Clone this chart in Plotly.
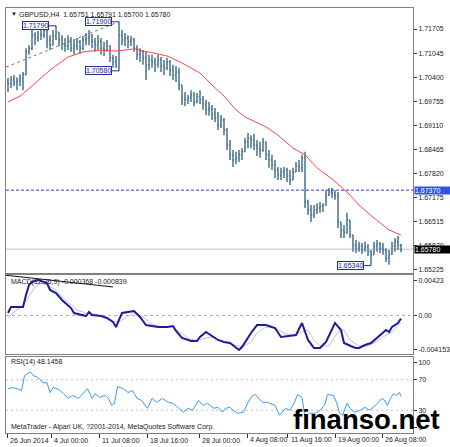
import plotly.graph_objects as go

# GBPUSD H4 price bars (one drawn bar per entry)
bar_open = [
    1.7030, 1.7023, 1.7033, 1.7028, 1.7033, 1.7039, 1.7047, 1.7109, 1.7119, 1.7154,
    1.7146, 1.7157, 1.7154, 1.7165, 1.7141, 1.7127, 1.7152, 1.7162, 1.7141, 1.7130,
    1.7125, 1.7141, 1.7119, 1.7125, 1.7136, 1.7119, 1.7141, 1.7146, 1.7152, 1.7136,
    1.7127, 1.7136, 1.7119, 1.7114, 1.7125, 1.7093, 1.7082, 1.7068, 1.7154, 1.7141,
    1.7146, 1.7136, 1.7141, 1.7119, 1.7101, 1.7109, 1.7093, 1.7074, 1.7087, 1.7082,
    1.7076, 1.7087, 1.7071, 1.7066, 1.7082, 1.7060, 1.7047, 1.7055, 1.7020, 1.6985,
    1.6980, 1.6985, 1.6993, 1.6974, 1.6988, 1.6980, 1.6969, 1.6953, 1.6958, 1.6939,
    1.6931, 1.6912, 1.6926, 1.6899, 1.6858, 1.6832, 1.6818, 1.6824, 1.6832, 1.6840,
    1.6867, 1.6877, 1.6872, 1.6858, 1.6850, 1.6845, 1.6867, 1.6832, 1.6818, 1.6805,
    1.6791, 1.6778, 1.6786, 1.6791, 1.6775, 1.6764, 1.6786, 1.6802, 1.6797, 1.6824,
    1.6705, 1.6684, 1.6670, 1.6684, 1.6689, 1.6694, 1.6697, 1.6724, 1.6732, 1.6729,
    1.6721, 1.6651, 1.6630, 1.6624, 1.6657, 1.6616, 1.6589, 1.6581, 1.6587, 1.6576,
    1.6584, 1.6571, 1.6563, 1.6587, 1.6592, 1.6581, 1.6576, 1.6554, 1.6565, 1.6587,
    1.6598, 1.6589,
]
bar_high = [
    1.7039, 1.7044, 1.7047, 1.7041, 1.7049, 1.7055, 1.7119, 1.7127, 1.7168, 1.7162,
    1.7165, 1.7170, 1.7172, 1.7168, 1.7154, 1.7168, 1.7179, 1.7162, 1.7154, 1.7146,
    1.7154, 1.7149, 1.7141, 1.7146, 1.7141, 1.7152, 1.7160, 1.7168, 1.7157, 1.7146,
    1.7154, 1.7146, 1.7136, 1.7141, 1.7127, 1.7101, 1.7098, 1.7190, 1.7168, 1.7160,
    1.7154, 1.7152, 1.7146, 1.7127, 1.7119, 1.7114, 1.7109, 1.7101, 1.7101, 1.7093,
    1.7101, 1.7095, 1.7087, 1.7093, 1.7087, 1.7074, 1.7071, 1.7066, 1.7020, 1.7001,
    1.6993, 1.7006, 1.7001, 1.6998, 1.7006, 1.6990, 1.6980, 1.6974, 1.6966, 1.6958,
    1.6947, 1.6939, 1.6931, 1.6904, 1.6872, 1.6845, 1.6840, 1.6845, 1.6850, 1.6877,
    1.6891, 1.6885, 1.6888, 1.6872, 1.6867, 1.6877, 1.6867, 1.6845, 1.6832, 1.6818,
    1.6799, 1.6797, 1.6799, 1.6797, 1.6791, 1.6797, 1.6813, 1.6818, 1.6832, 1.6840,
    1.6711, 1.6697, 1.6697, 1.6702, 1.6705, 1.6702, 1.6737, 1.6743, 1.6743, 1.6737,
    1.6732, 1.6651, 1.6643, 1.6676, 1.6657, 1.6616, 1.6603, 1.6598, 1.6595, 1.6598,
    1.6592, 1.6576, 1.6598, 1.6603, 1.6598, 1.6595, 1.6581, 1.6576, 1.6598, 1.6608,
    1.6614, 1.6592,
]
bar_low = [
    1.7001, 1.7012, 1.7017, 1.7006, 1.7017, 1.7006, 1.7047, 1.7101, 1.7114, 1.7127,
    1.7136, 1.7141, 1.7146, 1.7119, 1.7114, 1.7127, 1.7141, 1.7125, 1.7114, 1.7109,
    1.7114, 1.7109, 1.7101, 1.7114, 1.7103, 1.7114, 1.7127, 1.7127, 1.7119, 1.7109,
    1.7114, 1.7101, 1.7098, 1.7109, 1.7082, 1.7066, 1.7066, 1.7058, 1.7127, 1.7125,
    1.7119, 1.7125, 1.7109, 1.7087, 1.7082, 1.7074, 1.7033, 1.7060, 1.7066, 1.7055,
    1.7066, 1.7055, 1.7047, 1.7060, 1.7044, 1.7033, 1.7028, 1.7006, 1.6966, 1.6963,
    1.6969, 1.6974, 1.6963, 1.6971, 1.6969, 1.6953, 1.6939, 1.6937, 1.6926, 1.6920,
    1.6899, 1.6904, 1.6885, 1.6845, 1.6818, 1.6799, 1.6807, 1.6813, 1.6818, 1.6840,
    1.6850, 1.6850, 1.6845, 1.6829, 1.6824, 1.6840, 1.6818, 1.6797, 1.6791, 1.6770,
    1.6764, 1.6764, 1.6770, 1.6759, 1.6751, 1.6764, 1.6786, 1.6786, 1.6786, 1.6689,
    1.6670, 1.6651, 1.6662, 1.6673, 1.6676, 1.6678, 1.6695, 1.6721, 1.6716, 1.6711,
    1.6635, 1.6608, 1.6608, 1.6620, 1.6608, 1.6571, 1.6568, 1.6571, 1.6565, 1.6571,
    1.6560, 1.6534, 1.6563, 1.6571, 1.6568, 1.6563, 1.6544, 1.6536, 1.6563, 1.6571,
    1.6576, 1.6570,
]
bar_close = [
    1.7023, 1.7033, 1.7028, 1.7033, 1.7039, 1.7047, 1.7109, 1.7119, 1.7154, 1.7146,
    1.7157, 1.7154, 1.7165, 1.7141, 1.7127, 1.7152, 1.7162, 1.7141, 1.7130, 1.7125,
    1.7141, 1.7119, 1.7125, 1.7136, 1.7119, 1.7141, 1.7146, 1.7152, 1.7136, 1.7127,
    1.7136, 1.7119, 1.7114, 1.7125, 1.7093, 1.7082, 1.7068, 1.7154, 1.7141, 1.7146,
    1.7136, 1.7141, 1.7119, 1.7101, 1.7109, 1.7093, 1.7074, 1.7087, 1.7082, 1.7076,
    1.7087, 1.7071, 1.7066, 1.7082, 1.7060, 1.7047, 1.7055, 1.7020, 1.6985, 1.6980,
    1.6985, 1.6993, 1.6974, 1.6988, 1.6980, 1.6969, 1.6953, 1.6958, 1.6939, 1.6931,
    1.6912, 1.6926, 1.6899, 1.6858, 1.6832, 1.6818, 1.6824, 1.6832, 1.6840, 1.6867,
    1.6877, 1.6872, 1.6858, 1.6850, 1.6845, 1.6867, 1.6832, 1.6818, 1.6805, 1.6791,
    1.6778, 1.6786, 1.6791, 1.6775, 1.6764, 1.6786, 1.6802, 1.6797, 1.6824, 1.6705,
    1.6684, 1.6670, 1.6684, 1.6689, 1.6694, 1.6697, 1.6724, 1.6732, 1.6729, 1.6721,
    1.6651, 1.6630, 1.6624, 1.6657, 1.6616, 1.6589, 1.6581, 1.6587, 1.6576, 1.6584,
    1.6571, 1.6563, 1.6587, 1.6592, 1.6581, 1.6576, 1.6554, 1.6565, 1.6587, 1.6598,
    1.6589, 1.6578,
]

# moving average (red), sampled along the bars
ma_bar = [0, 4, 8, 14, 20, 25, 31, 36, 42, 47, 53, 58, 64, 68, 72, 76, 79, 86, 90,
          95, 99, 103, 108, 113, 117, 122, 127, 131]
ma_val = [1.6974, 1.6990, 1.7017, 1.7060, 1.7095, 1.7109, 1.7114, 1.7111, 1.7117,
          1.7109, 1.7098, 1.7079, 1.7052, 1.7020, 1.6990, 1.6953, 1.6934, 1.6907,
          1.6885, 1.6850, 1.6832, 1.6797, 1.6767, 1.6732, 1.6697, 1.6662, 1.6630,
          1.6616]

# MACD(12,26,9)
macd_bar = [0, 1, 3, 5, 6, 7, 8, 10, 11, 13, 14, 16, 18, 21, 22, 25, 26, 27, 28, 31,
            33, 35, 36, 37, 38, 42, 44, 46, 50, 53, 55, 56, 58, 61, 63, 64, 66, 67,
            70, 72, 74, 77, 78, 81, 83, 86, 89, 91, 93, 96, 98, 100, 102, 104, 106,
            109, 111, 112, 115, 116, 117, 119, 121, 123, 125, 126, 127, 128, 130, 131]
macd_main = [0.00030, 0.00103, 0.00103, 0.00103, 0.00247, 0.00368, 0.00404, 0.00428,
             0.00416, 0.00392, 0.00308, 0.00271, 0.00187, 0.00090, 0.00030, 0.00006,
             -0.00006, 0.00042, 0.00006, -0.00006, -0.00030, -0.00078, -0.00139,
             -0.00054, 0.00030, 0.00054, -0.00018, -0.00115, -0.00139, -0.00139,
             -0.00127, -0.00187, -0.00271, -0.00308, -0.00308, -0.00259, -0.00199,
             -0.00223, -0.00295, -0.00320, -0.00332, -0.00416, -0.00380, -0.00211,
             -0.00115, -0.00115, -0.00151, -0.00259, -0.00247, -0.00235, -0.00090,
             -0.00295, -0.00392, -0.00392, -0.00320, -0.00090, -0.00175, -0.00332,
             -0.00380, -0.00392, -0.00392, -0.00356, -0.00332, -0.00271, -0.00199,
             -0.00175, -0.00199, -0.00139, -0.00090, -0.00037]
signal_bar = [0, 2, 5, 7, 9, 11, 13, 16, 18, 21, 23, 26, 29, 32, 35, 37, 40, 42, 45,
              48, 51, 55, 57, 60, 63, 66, 68, 71, 75, 78, 81, 83, 86, 89, 92, 95, 97,
              100, 102, 104, 107, 110, 112, 114, 117, 120, 122, 125, 128, 131]
macd_signal = [-0.00030, 0.00042, 0.00115, 0.00235, 0.00344, 0.00392, 0.00368,
               0.00308, 0.00223, 0.00127, 0.00066, 0.00030, 0.00018, -0.00018,
               -0.00078, -0.00078, -0.00006, 0.00030, -0.00018, -0.00103, -0.00139,
               -0.00139, -0.00199, -0.00271, -0.00308, -0.00271, -0.00259, -0.00308,
               -0.00344, -0.00380, -0.00320, -0.00211, -0.00139, -0.00151, -0.00211,
               -0.00247, -0.00211, -0.00175, -0.00295, -0.00368, -0.00368, -0.00199,
               -0.00175, -0.00295, -0.00368, -0.00368, -0.00332, -0.00259, -0.00199,
               -0.00084]

# RSI(14)
rsi_bar = [0, 1.5, 3, 4.5, 5.5, 6.5, 7.5, 8.5, 9.5, 10.5, 11.5, 13, 14, 15, 16.5, 18.5,
           20, 21.5, 23.5, 25, 26.5, 28, 29, 30.5, 32.5, 33.5, 34.5, 35.5, 36.5, 38.5,
           40, 41.5, 43, 44.5, 46.5, 48, 49.5, 51.5, 53.5, 55, 56.5, 58.5, 60, 61.5,
           63.5, 65, 66.5, 68.5, 70, 71.5, 72.5, 74, 75, 76.5, 78.5, 80, 81.5, 82.5,
           83.5, 85, 86.5, 89, 90.5, 92.5, 94, 95.5, 96.5, 98, 99, 100.5, 102.5, 104,
           105.5, 106.5, 108.5, 109.5, 110.5, 111.5, 113, 114, 115.5, 117.5, 119,
           120.5, 122.5, 124, 125, 126.5, 127.5, 128.5, 129.5, 130.5, 131]
rsi_val = [58.4, 59.7, 58.4, 55.8, 75.3, 77.9, 80.5, 75.3, 74.0, 71.4, 66.2, 66.2, 53.2,
           59.7, 58.4, 51.9, 45.5, 49.4, 45.5, 51.9, 58.4, 45.5, 51.9, 46.8, 49.4, 45.5,
           36.4, 39.0, 61.0, 58.4, 53.2, 55.8, 45.5, 42.9, 32.5, 45.5, 40.3, 45.5, 40.3,
           39.0, 33.8, 27.3, 32.5, 29.9, 42.9, 36.4, 39.0, 32.5, 33.8, 27.3, 32.5, 33.8,
           29.9, 26.0, 27.3, 40.3, 49.4, 50.6, 45.5, 40.3, 40.3, 36.4, 23.4, 32.5, 29.9,
           40.3, 50.6, 46.8, 20.8, 26.0, 26.0, 29.9, 36.4, 50.6, 49.4, 40.3, 26.0, 23.4,
           39.0, 32.5, 27.3, 29.9, 33.8, 29.9, 36.4, 42.9, 45.5, 36.4, 45.5, 51.9, 49.4,
           53.2, 48.1]

price_ticks = [1.71705, 1.71045, 1.70400, 1.69755, 1.69110, 1.68465, 1.67820,
               1.67175, 1.66515, 1.65870, 1.65225]
time_tick_bar = [-0.33, 14.33, 30.33, 46.33, 63.67, 79.67, 93.33, 109, 124.67]
time_tick_text = ["26 Jun 2014", "4 Jul 00:00", "11 Jul 08:00", "18 Jul 16:00",
                  "28 Jul 00:00", "4 Aug 08:00", "11 Aug 16:00", "19 Aug 00:00",
                  "26 Aug 08:00"]

# swing labels: text, price, bar they point to
swing_text = ["1.71790", "1.71900", "1.70580", "1.65340"]
swing_price = [1.7179, 1.7190, 1.7058, 1.6534]
swing_bar = [16, 37, 37, 121]

level_price = 1.6737
last_price = 1.6578
trend_bar = [-0.67, 36]
trend_price = [1.7068, 1.7187]
macd_trend_bar = [-0.67, 35]
macd_trend_val = [0.00485, 0.00344]

W, H = 450, 447
FONT = "Liberation Sans"
BAR = "#46728f"
FRAME = "#808080"
X0, X1 = 6 / W, 413 / W


def py(px):
    return 1 - px / H


fig = go.Figure()
fig.add_trace(go.Ohlc(
    x=list(range(len(bar_close))), open=bar_open, high=bar_high, low=bar_low,
    close=bar_close, tickwidth=0.35, hoverinfo="skip",
    increasing=dict(line=dict(color=BAR, width=1.5)),
    decreasing=dict(line=dict(color=BAR, width=1.5)),
    xaxis="x", yaxis="y",
))
fig.add_trace(go.Scatter(x=ma_bar, y=ma_val, mode="lines",
                         line=dict(color="#f04a4a", width=1), xaxis="x", yaxis="y"))
fig.add_trace(go.Scatter(x=trend_bar, y=trend_price, mode="lines",
                         line=dict(color="#777777", width=1, dash="3px,3px"),
                         xaxis="x", yaxis="y"))
fig.add_trace(go.Scatter(x=signal_bar, y=macd_signal, mode="lines",
                         line=dict(color="#c4c4c4", width=1), xaxis="x2", yaxis="y2"))
fig.add_trace(go.Scatter(x=macd_bar, y=macd_main, mode="lines",
                         line=dict(color="#1c1c9c", width=2), xaxis="x2", yaxis="y2"))
fig.add_trace(go.Scatter(x=macd_trend_bar, y=macd_trend_val, mode="lines",
                         line=dict(color="#111111", width=1), xaxis="x2", yaxis="y2"))
fig.add_trace(go.Scatter(x=rsi_bar, y=rsi_val, mode="lines",
                         line=dict(color="#3d9bf2", width=1), xaxis="x3", yaxis="y3"))

shapes = [
    dict(type="line", xref="paper", yref="y", x0=X0, x1=X1, y0=last_price, y1=last_price,
         line=dict(color="#d4d4d4", width=1.5), layer="below"),
    dict(type="line", xref="paper", yref="y", x0=X0, x1=X1, y0=level_price, y1=level_price,
         line=dict(color="#2a3bd6", width=1, dash="3px,2px")),
    dict(type="line", xref="paper", yref="y2", x0=X0, x1=X1, y0=0, y1=0,
         line=dict(color="#b0b0b0", width=1, dash="3px,3px"), layer="below"),
]
for lvl in (70, 30):
    shapes.append(dict(type="line", xref="paper", yref="y3", x0=X0, x1=X1, y0=lvl, y1=lvl,
                       line=dict(color="#c0c0c0", width=1, dash="2px,3px"), layer="below"))

small = dict(family=FONT, size=7, color="#1a1a1a")
annotations = []
for txt, p, b in zip(swing_text, swing_price, swing_bar):
    shapes.append(dict(type="line", xref="x", yref="y", x0=b - 2.4, x1=b, y0=p, y1=p,
                       line=dict(color="#2b2b8f", width=1)))
    annotations.append(dict(x=b - 2.3, y=p, xref="x", yref="y", text=txt, showarrow=False,
                            xanchor="right", yanchor="middle",
                            font=dict(family=FONT, size=7, color="#2b2b9a"),
                            bgcolor="#f6f6ff", bordercolor="#2b2b9a", borderwidth=1,
                            borderpad=0))

annotations += [
    dict(x=X1 + 0.5 / W, y=level_price, xref="paper", yref="y", text="1.67370",
         showarrow=False, xanchor="left", yanchor="middle", width=36, align="left",
         font=dict(family=FONT, size=7, color="white"), bgcolor="#2d55e8", borderpad=0),
    dict(x=X1 + 0.5 / W, y=last_price, xref="paper", yref="y", text="1.65780",
         showarrow=False, xanchor="left", yanchor="middle", width=36, align="left",
         font=dict(family=FONT, size=7, color="white"), bgcolor="#000000", borderpad=0),
    dict(x=9 / W, y=py(14), xref="paper", yref="paper", text="▼", showarrow=False,
         xanchor="left", yanchor="middle", font=dict(family=FONT, size=6, color="#1a1a1a")),
    dict(x=17 / W, y=py(14), xref="paper", yref="paper",
         text="GBPUSD,H4  1.65751 1.65791 1.65700 1.65780", showarrow=False,
         xanchor="left", yanchor="middle", font=small),
    dict(x=9 / W, y=py(282), xref="paper", yref="paper",
         text="MACD(12,26,9) -0.000368 -0.000839", showarrow=False,
         xanchor="left", yanchor="middle", font=small),
    dict(x=9 / W, y=py(362), xref="paper", yref="paper", text="RSI(14) 48.1458",
         showarrow=False, xanchor="left", yanchor="middle", font=small),
    dict(x=9 / W, y=py(427), xref="paper", yref="paper",
         text="MetaTrader - Alpari UK, ?2001-2014, MetaQuotes Software Corp.",
         showarrow=False, xanchor="left", yanchor="middle", font=small),
    dict(x=291 / W, y=py(419), xref="paper", yref="paper", text="<b>finanso.net</b>",
         showarrow=False, xanchor="left", yanchor="middle",
         font=dict(family=FONT, size=27.5, color="#000000")),
]
for b, t in zip(time_tick_bar, time_tick_text):
    annotations.append(dict(x=b + 0.4, y=py(440), xref="x3", yref="paper", text=t,
                            showarrow=False, xanchor="left", yanchor="middle", font=small))

xr = [-0.67, 135]
xbase = dict(domain=[X0, X1], range=xr, showline=True, mirror=True, linecolor=FRAME,
             linewidth=1, showgrid=False, zeroline=False, fixedrange=True)
ybase = dict(side="right", showline=True, mirror=True, linecolor=FRAME, linewidth=1,
             showgrid=False, zeroline=False, ticks="outside", ticklen=3, tickcolor="#333333",
             tickfont=small, fixedrange=True)

fig.update_layout(
    width=W, height=H, autosize=False, showlegend=False,
    margin=dict(l=0, r=0, t=0, b=0),
    paper_bgcolor="white", plot_bgcolor="white",
    xaxis=dict(xbase, anchor="y", showticklabels=False, ticks="",
               rangeslider=dict(visible=False)),
    xaxis2=dict(xbase, anchor="y2", showticklabels=False, ticks="", matches="x"),
    xaxis3=dict(xbase, anchor="y3", showticklabels=False, ticks="outside", ticklen=4,
                tickcolor="#333333", tickvals=time_tick_bar, matches="x"),
    yaxis=dict(ybase, domain=[py(273), py(8)], range=[1.65141, 1.72270], anchor="x",
               tickvals=price_ticks, ticktext=[f"{v:.5f}" for v in price_ticks]),
    yaxis2=dict(ybase, domain=[py(354), py(275)], range=[-0.004643, 0.004884], anchor="x2",
                tickvals=[0.00423, 0, -0.004153], ticktext=["0.00423", "0.00", "-0.004153"]),
    yaxis3=dict(ybase, domain=[py(433), py(357)], range=[0, 100], anchor="x3",
                tickvals=[93, 70, 30, 7], ticktext=["100", "70", "30", "0"]),
    shapes=shapes, annotations=annotations,
)

fig.write_html("out.html", config={"displayModeBar": False},
               post_script="document.body.style.margin='0';"
                           "document.body.style.overflow='hidden';")
